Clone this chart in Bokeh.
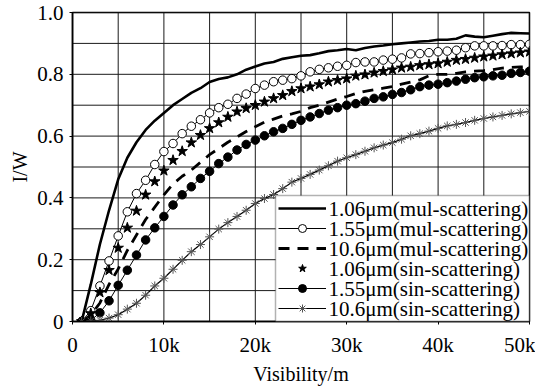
from bokeh.plotting import figure
from bokeh.models import (FixedTicker, Legend, LegendItem, Range1d, LinearAxis,
                          BoxAnnotation, Label)
from bokeh.embed import file_html
from bokeh.resources import INLINE

# Visibility in metres, 1 km steps
visibility = [v * 1000 for v in range(1, 51)]

mul_106 = [0.0, 0.12, 0.25, 0.36, 0.46, 0.53, 0.58, 0.62, 0.65, 0.675,
           0.70, 0.72, 0.74, 0.755, 0.775, 0.785, 0.79, 0.80, 0.815, 0.825,
           0.835, 0.84, 0.85, 0.855, 0.86, 0.862, 0.868, 0.875, 0.878, 0.882,
           0.878, 0.885, 0.89, 0.893, 0.897, 0.90, 0.903, 0.906, 0.908, 0.912,
           0.912, 0.915, 0.926, 0.922, 0.92, 0.925, 0.93, 0.934, 0.933, 0.932]

mul_155 = [0.0, 0.035, 0.115, 0.196, 0.277, 0.355, 0.414, 0.457, 0.508, 0.55,
           0.576, 0.608, 0.632, 0.653, 0.675, 0.692, 0.703, 0.722, 0.736, 0.754,
           0.765, 0.776, 0.781, 0.786, 0.795, 0.808, 0.816, 0.821, 0.826, 0.829,
           0.838, 0.84, 0.84, 0.846, 0.849, 0.853, 0.866, 0.867, 0.87, 0.873,
           0.875, 0.878, 0.886, 0.892, 0.892, 0.892, 0.893, 0.896, 0.896, 0.897]

mul_106um = [0.0, 0.02, 0.06, 0.12, 0.17, 0.23, 0.28, 0.33, 0.37, 0.41,
             0.445, 0.47, 0.49, 0.515, 0.54, 0.56, 0.58, 0.597, 0.615, 0.63,
             0.645, 0.655, 0.665, 0.672, 0.68, 0.692, 0.70, 0.71, 0.72, 0.728,
             0.738, 0.745, 0.75, 0.755, 0.76, 0.768, 0.775, 0.782, 0.795, 0.80,
             0.80, 0.803, 0.808, 0.81, 0.812, 0.815, 0.82, 0.822, 0.824, 0.825]

sin_106 = [0.0, 0.026, 0.094, 0.166, 0.238, 0.303, 0.358, 0.41, 0.453, 0.488,
           0.522, 0.551, 0.579, 0.603, 0.625, 0.644, 0.662, 0.679, 0.69, 0.70,
           0.711, 0.722, 0.732, 0.745, 0.754, 0.76, 0.767, 0.776, 0.781, 0.786,
           0.795, 0.799, 0.805, 0.81, 0.815, 0.821, 0.824, 0.829, 0.832, 0.835,
           0.84, 0.846, 0.849, 0.853, 0.857, 0.86, 0.864, 0.867, 0.87, 0.873]

sin_155 = [0.0, 0.004, 0.028, 0.067, 0.117, 0.166, 0.215, 0.264, 0.303, 0.34,
           0.377, 0.41, 0.436, 0.463, 0.486, 0.511, 0.532, 0.555, 0.573, 0.587,
           0.601, 0.614, 0.625, 0.638, 0.651, 0.662, 0.673, 0.684, 0.692, 0.70,
           0.705, 0.713, 0.722, 0.727, 0.735, 0.741, 0.75, 0.76, 0.765, 0.768,
           0.773, 0.778, 0.784, 0.789, 0.792, 0.795, 0.797, 0.803, 0.806, 0.81]

sin_106um = [0.0, 0.002, 0.004, 0.011, 0.022, 0.04, 0.059, 0.085, 0.115, 0.14,
             0.169, 0.198, 0.226, 0.249, 0.274, 0.299, 0.32, 0.34, 0.36, 0.382,
             0.398, 0.411, 0.43, 0.451, 0.463, 0.476, 0.49, 0.504, 0.519, 0.53,
             0.54, 0.551, 0.562, 0.571, 0.579, 0.59, 0.601, 0.608, 0.616, 0.625,
             0.633, 0.638, 0.644, 0.651, 0.657, 0.662, 0.667, 0.672, 0.676, 0.68]

x_ticks = [0, 10000, 20000, 30000, 40000, 50000]
x_tick_labels = ["0", "10k", "20k", "30k", "40k", "50k"]
y_ticks = [0, 0.2, 0.4, 0.6, 0.8, 1.0]
y_tick_labels = ["0", "0.2", "0.4", "0.6", "0.8", "1.0"]
x_grid = [i * 5000 for i in range(11)]
y_grid = [i / 10 for i in range(11)]

labels = ["1.06\u03bcm(mul-scattering)", "1.55\u03bcm(mul-scattering)",
          "10.6\u03bcm(mul-scattering)", "1.06\u03bcm(sin-scattering)",
          "1.55\u03bcm(sin-scattering)", "10.6\u03bcm(sin-scattering)"]

FONT = "Liberation Serif"
FRAME_W, FRAME_H = 457, 309
X0, X1, Y0, Y1 = 0, 50000, 0, 1

p = figure(frame_width=FRAME_W, frame_height=FRAME_H, output_backend="svg",
           toolbar_location=None, x_axis_type=None, y_axis_type=None,
           x_range=Range1d(X0, X1), y_range=Range1d(Y0, Y1),
           min_border_left=72, min_border_right=6, min_border_top=12,
           min_border_bottom=50)
p.background_fill_color = "white"
p.border_fill_color = "white"
p.outline_line_color = "black"
p.outline_line_width = 1.5
p.xgrid.visible = False
p.ygrid.visible = False

# grid lines as plain segments at the grid positions
p.segment(x0=x_grid, y0=[Y0] * len(x_grid), x1=x_grid, y1=[Y1] * len(x_grid),
          line_color="#1a1a1a", line_width=1)
p.segment(x0=[X0] * len(y_grid), y0=y_grid, x1=[X1] * len(y_grid), y1=y_grid,
          line_color="#1a1a1a", line_width=1)

xaxis = LinearAxis(ticker=FixedTicker(ticks=x_ticks),
                   major_label_overrides=dict(zip(x_ticks, x_tick_labels)),
                   axis_label="Visibility/m")
yaxis = LinearAxis(ticker=FixedTicker(ticks=y_ticks),
                   major_label_overrides=dict(zip(y_ticks, y_tick_labels)),
                   axis_label="I/W")
for ax in (xaxis, yaxis):
    ax.axis_line_color = "black"
    ax.axis_line_width = 1.5
    ax.major_tick_in = 0
    ax.major_tick_out = 3
    ax.major_tick_line_color = "black"
    ax.minor_tick_line_color = None
    ax.major_label_text_font = FONT
    ax.major_label_text_font_size = "21px"
    ax.major_label_text_color = "black"
    ax.axis_label_text_font = FONT
    ax.axis_label_text_font_size = "20px"
    ax.axis_label_text_font_style = "normal"
    ax.axis_label_text_color = "black"
xaxis.major_label_standoff = 8
yaxis.major_label_standoff = 6
xaxis.axis_label_standoff = 3
yaxis.axis_label_standoff = 3
p.add_layout(xaxis, "below")
p.add_layout(yaxis, "left")

r1 = p.line(visibility, mul_106, line_color="black", line_width=2.6)

r2l = p.line(visibility, mul_155, line_color="black", line_width=1)
r2m = p.scatter(visibility, mul_155, marker="circle", size=8.5,
                fill_color="white", line_color="black", line_width=1)

r3 = p.line(visibility, mul_106um, line_color="black", line_width=2.8,
            line_dash="11 8")

r4 = p.scatter(visibility, sin_106, marker="star", size=11,
               fill_color="black", line_color="black")

r5l = p.line(visibility, sin_155, line_color="black", line_width=1)
r5m = p.scatter(visibility, sin_155, marker="circle", size=8.5,
                fill_color="black", line_color="black")

r6l = p.line(visibility, sin_106um, line_color="black", line_width=1.2)
r6m = p.scatter(visibility, sin_106um, marker="asterisk", size=9,
                line_color="#555555", line_width=1)

# legend geometry (screen pixels)
PAD, ROW_H, GLYPH_W, STANDOFF, LABEL_W = 3, 20, 48, 2, 198
n = len(labels)
x_per_px = (X1 - X0) / FRAME_W
y_per_px = (Y1 - Y0) / FRAME_H
box_w = 2 * PAD + GLYPH_W + STANDOFF + LABEL_W
box_h = 2 * PAD + n * ROW_H

# legend background box
p.add_layout(BoxAnnotation(left=X1 - box_w * x_per_px, right=X1,
                           bottom=Y0, top=Y0 + box_h * y_per_px,
                           fill_color="white", fill_alpha=1,
                           line_color="black", line_width=1.5))

legend = Legend(items=[
    LegendItem(label=" ", renderers=[r1]),
    LegendItem(label=" ", renderers=[r2l, r2m]),
    LegendItem(label=" ", renderers=[r3]),
    LegendItem(label=" ", renderers=[r4]),
    LegendItem(label=" ", renderers=[r5l, r5m]),
    LegendItem(label=" ", renderers=[r6l, r6m]),
], location="bottom_right")
legend.margin = 0
legend.padding = PAD
legend.spacing = 0
legend.glyph_width = GLYPH_W
legend.glyph_height = ROW_H
legend.label_height = ROW_H
legend.label_width = LABEL_W
legend.label_standoff = STANDOFF
legend.label_text_font_size = "8px"
legend.border_line_alpha = 0
legend.background_fill_alpha = 0
p.add_layout(legend, "center")

text_x = X1 - (PAD + LABEL_W) * x_per_px
for i, lab in enumerate(labels):
    row_center_px = PAD + ROW_H * (n - 1 - i) + ROW_H / 2
    p.add_layout(Label(x=text_x, y=Y0 + row_center_px * y_per_px, text=lab,
                       text_font=FONT, text_font_size="21px",
                       text_color="black", text_baseline="middle",
                       text_align="left"))

# frame outline drawn as an annotation so it sits on top
p.add_layout(BoxAnnotation(left=X0, right=X1, bottom=Y0, top=Y1,
                           fill_color=None, fill_alpha=0,
                           line_color="black", line_width=1.5))

open("out.html", "w").write(file_html(p, INLINE))
